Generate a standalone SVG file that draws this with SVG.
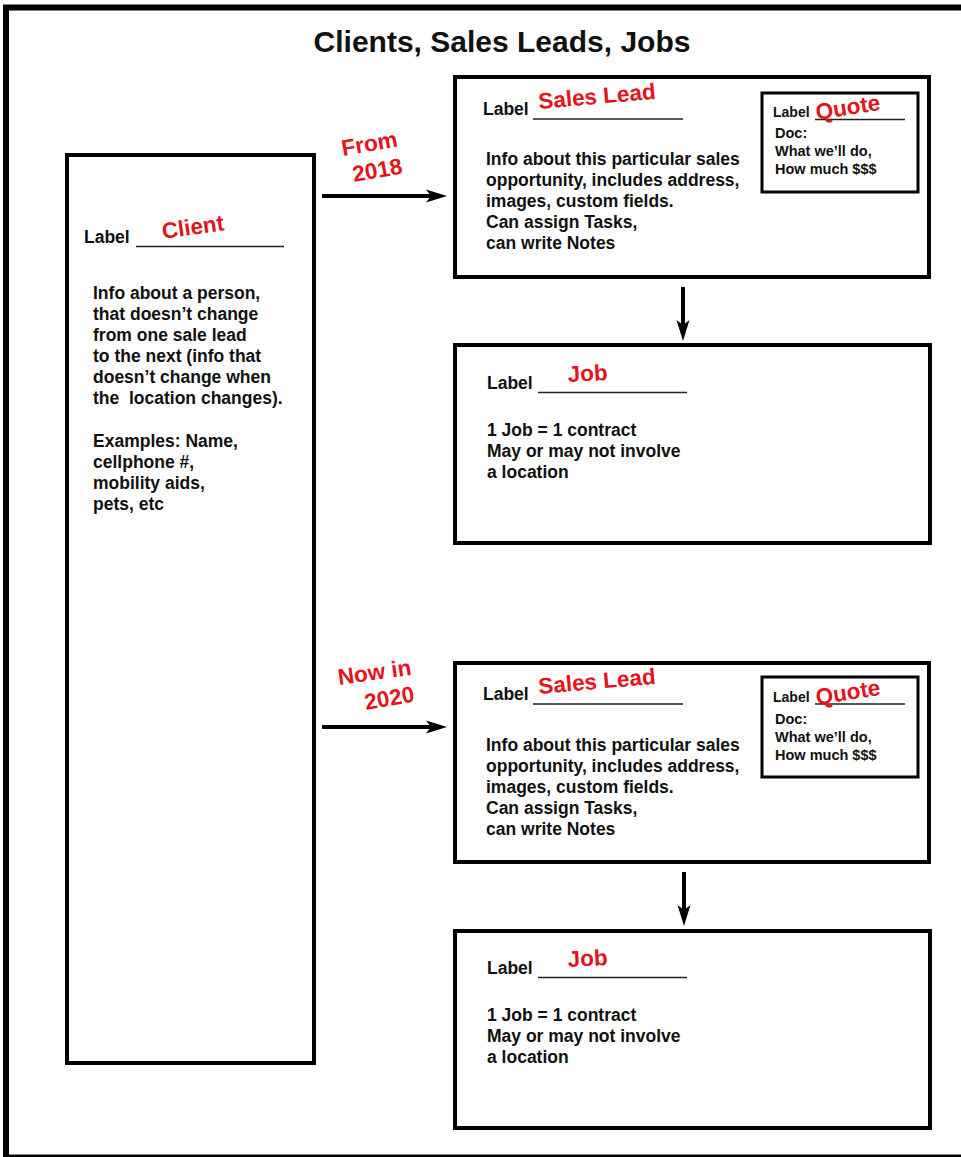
<svg xmlns="http://www.w3.org/2000/svg" width="961" height="1157" viewBox="0 0 961 1157">
<defs>
<style>
.frame{fill:#fff;stroke:#000;stroke-width:6}
.box{fill:#fff;stroke:#000;stroke-width:4}
.qbox{fill:#fff;stroke:#000;stroke-width:3}
.t{font-family:"Liberation Sans",Arial,sans-serif;font-weight:bold;fill:#111}
.title{font-size:30px}
.body{font-size:17.5px}
.small{font-size:14.5px}
.red{font-family:"Liberation Sans",Arial,sans-serif;font-weight:bold;fill:#e3141c;font-size:22.5px}
.ul{stroke:#222;stroke-width:1.5}
.conn{stroke:#000;stroke-width:4;fill:none;marker-end:url(#ah)}
</style>
<marker id="ah" markerUnits="userSpaceOnUse" viewBox="0 0 22 16" markerWidth="22" markerHeight="16" refX="12" refY="8" orient="auto">
<path d="M0,1.5 L21,8 L0,14.5 L5,8 z" fill="#000"/>
</marker>
</defs>
<rect class="frame" x="6" y="7.5" width="975" height="1150"/>
<text class="t title" x="502" y="52" text-anchor="middle">Clients, Sales Leads, Jobs</text>

<g id="client">
<rect class="box" x="67" y="155" width="247" height="908"/>
<text class="t body" x="84" y="243">Label</text>
<line class="ul" x1="136" y1="246.5" x2="284" y2="246.5"/>
<text class="red" x="163" y="239" transform="rotate(-8 163 239)">Client</text>
<text class="t body" x="93">
<tspan x="93" y="299">Info about a person,</tspan>
<tspan x="93" y="320">that doesn’t change</tspan>
<tspan x="93" y="341">from one sale lead</tspan>
<tspan x="93" y="362">to the next (info that</tspan>
<tspan x="93" y="383">doesn’t change when</tspan>
<tspan x="93" y="404" xml:space="preserve">the  location changes).</tspan>
<tspan x="93" y="447">Examples: Name,</tspan>
<tspan x="93" y="468">cellphone #,</tspan>
<tspan x="93" y="489">mobility aids,</tspan>
<tspan x="93" y="510">pets, etc</tspan>
</text>
</g>

<g id="saleslead1">
<rect class="box" x="455" y="77" width="474" height="200"/>
<text class="t body" x="483" y="115">Label</text>
<line class="ul" x1="533" y1="119" x2="683" y2="119"/>
<text class="red" x="539" y="109" transform="rotate(-5 539 109)">Sales Lead</text>
<text class="t body">
<tspan x="486" y="165">Info about this particular sales</tspan>
<tspan x="486" y="186">opportunity, includes address,</tspan>
<tspan x="486" y="207">images, custom fields.</tspan>
<tspan x="486" y="228">Can assign Tasks,</tspan>
<tspan x="486" y="249">can write Notes</tspan>
</text>
</g>

<g id="quote1">
<rect class="qbox" x="762" y="93" width="156" height="99"/>
<text class="t" style="font-size:14px" x="773" y="116.5">Label</text>
<line class="ul" x1="815" y1="119.5" x2="905" y2="119.5"/>
<text class="red" x="817" y="120" transform="rotate(-9 817 120)">Quote</text>
<text class="t small">
<tspan x="775" y="138">Doc:</tspan>
<tspan x="775" y="156">What we’ll do,</tspan>
<tspan x="775" y="174">How much $$$</tspan>
</text>
</g>

<g id="job1">
<rect class="box" x="455" y="345" width="475" height="198"/>
<text class="t body" x="487" y="389">Label</text>
<line class="ul" x1="538" y1="392.5" x2="687" y2="392.5"/>
<text class="red" x="568" y="382" transform="rotate(-3 568 382)">Job</text>
<text class="t body">
<tspan x="487" y="436">1 Job = 1 contract</tspan>
<tspan x="487" y="457">May or may not involve</tspan>
<tspan x="487" y="478">a location</tspan>
</text>
</g>

<g id="saleslead2">
<rect class="box" x="455" y="663" width="474" height="199"/>
<text class="t body" x="483" y="700">Label</text>
<line class="ul" x1="533" y1="704" x2="683" y2="704"/>
<text class="red" x="539" y="694" transform="rotate(-5 539 694)">Sales Lead</text>
<text class="t body">
<tspan x="486" y="751">Info about this particular sales</tspan>
<tspan x="486" y="772">opportunity, includes address,</tspan>
<tspan x="486" y="793">images, custom fields.</tspan>
<tspan x="486" y="814">Can assign Tasks,</tspan>
<tspan x="486" y="835">can write Notes</tspan>
</text>
</g>

<g id="quote2">
<rect class="qbox" x="762" y="677" width="156" height="100"/>
<text class="t" style="font-size:14px" x="773" y="701.5">Label</text>
<line class="ul" x1="815" y1="704" x2="905" y2="704"/>
<text class="red" x="817" y="705" transform="rotate(-9 817 705)">Quote</text>
<text class="t small">
<tspan x="775" y="724">Doc:</tspan>
<tspan x="775" y="742">What we’ll do,</tspan>
<tspan x="775" y="760">How much $$$</tspan>
</text>
</g>

<g id="job2">
<rect class="box" x="455" y="931" width="475" height="197"/>
<text class="t body" x="487" y="974">Label</text>
<line class="ul" x1="538" y1="977.5" x2="687" y2="977.5"/>
<text class="red" x="568" y="967" transform="rotate(-3 568 967)">Job</text>
<text class="t body">
<tspan x="487" y="1021">1 Job = 1 contract</tspan>
<tspan x="487" y="1042">May or may not involve</tspan>
<tspan x="487" y="1063">a location</tspan>
</text>
</g>

<g id="connectors">
<path class="conn" d="M322,196 L438,196"/>
<path class="conn" d="M322,727 L438,727"/>
<path class="conn" d="M683,287 L683,332"/>
<path class="conn" d="M684,872 L684,917"/>
<text class="red" x="343" y="156" transform="rotate(-10 343 156)">From</text>
<text class="red" x="354" y="182" transform="rotate(-10 354 182)">2018</text>
<text class="red" x="339" y="685" transform="rotate(-8 339 685)">Now in</text>
<text class="red" x="366" y="710" transform="rotate(-10 366 710)">2020</text>
</g>
</svg>
